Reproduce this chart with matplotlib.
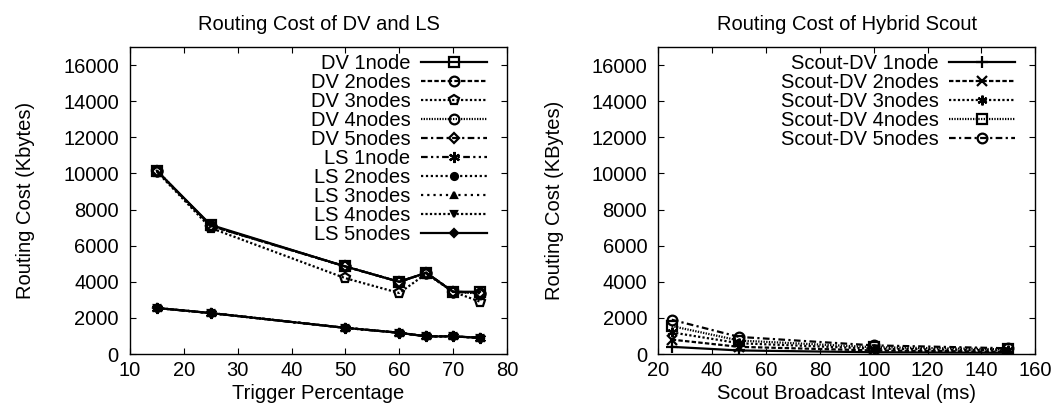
import matplotlib.pyplot as plt
import numpy as np

plt.rcParams['font.family'] = ['Liberation Sans', 'DejaVu Sans']

# left panel data
trigger_pct = [15, 25, 50, 60, 65, 70, 75]
dv_labels = ['DV 1node', 'DV 2nodes', 'DV 3nodes', 'DV 4nodes', 'DV 5nodes']
dv_1 = [10150, 7150, 4850, 4000, 4500, 3450, 3450]
dv_2 = [10150, 7100, 4850, 4000, 4500, 3450, 3400]
dv_3 = [10100, 6980, 4200, 3380, 4450, 3450, 2900]
dv_4 = [10150, 7100, 4850, 4000, 4500, 3450, 3350]
dv_5 = [10150, 7100, 4850, 4000, 4500, 3450, 3400]
ls_labels = ['LS 1node', 'LS 2nodes', 'LS 3nodes', 'LS 4nodes', 'LS 5nodes']
ls_1 = [2550, 2270, 1450, 1180, 980, 980, 900]
ls_2 = [2550, 2270, 1450, 1180, 980, 980, 900]
ls_3 = [2550, 2270, 1450, 1180, 980, 980, 900]
ls_4 = [2550, 2270, 1450, 1180, 980, 980, 900]
ls_5 = [2550, 2270, 1450, 1180, 980, 980, 900]

# right panel data
interval_ms = [25, 50, 100, 150]
scout_labels = ['Scout-DV 1node', 'Scout-DV 2nodes', 'Scout-DV 3nodes',
                'Scout-DV 4nodes', 'Scout-DV 5nodes']
scout_1 = [400, 200, 100, 70]
scout_2 = [800, 400, 200, 130]
scout_3 = [1200, 600, 300, 200]
scout_4 = [1550, 750, 380, 260]
scout_5 = [1900, 950, 480, 320]

styles_dv = [
    dict(ls='-', marker='s', mfc='none'),
    dict(ls=(0, (2, 1)), marker='o', mfc='none'),
    dict(ls=(0, (1, 1)), marker='p', mfc='none'),
    dict(ls=(0, (0.6, 0.6)), marker='o', mfc='none'),
    dict(ls=(0, (3, 1.5, 1, 1.5)), marker='D', mfc='none', ms=5),
]
styles_ls = [
    dict(ls=(0, (3, 1.5, 1, 1.5, 1, 1.5)), marker=(6, 2, 0), ms=8),
    dict(ls=(0, (1, 1.2)), marker='o', ms=5),
    dict(ls=(0, (1, 1.8)), marker='^', ms=5),
    dict(ls=(0, (1, 1)), marker='v', ms=5),
    dict(ls='-', marker='D', ms=4),
]
styles_scout = [
    dict(ls='-', marker='+', ms=8),
    dict(ls=(0, (2, 1)), marker='x'),
    dict(ls=(0, (1, 1)), marker=(6, 2, 0)),
    dict(ls=(0, (0.6, 0.6)), marker='s', mfc='none'),
    dict(ls=(0, (3, 1.5, 1, 1.5)), marker='o', mfc='none'),
]

FS = 14.5

fig = plt.figure(figsize=(10.6, 4.2), dpi=100)
ax1 = fig.add_axes([0.1226, 0.157, 0.3557, 0.731])
ax2 = fig.add_axes([0.621, 0.157, 0.3557, 0.731])

dv_series = [dv_1, dv_2, dv_3, dv_4, dv_5]
ls_series = [ls_1, ls_2, ls_3, ls_4, ls_5]
for lab, ys, st in zip(dv_labels, dv_series, styles_dv):
    kw = dict(color='black', lw=1.6, ms=7, mew=1.6)
    kw.update(st)
    ax1.plot(trigger_pct, ys, label=lab, **kw)
for lab, ys, st in zip(ls_labels, ls_series, styles_ls):
    kw = dict(color='black', lw=1.6, ms=7, mew=1.6)
    kw.update(st)
    ax1.plot(trigger_pct, ys, label=lab, **kw)

scout_series = [scout_1, scout_2, scout_3, scout_4, scout_5]
for lab, ys, st in zip(scout_labels, scout_series, styles_scout):
    kw = dict(color='black', lw=1.6, ms=7, mew=1.6)
    kw.update(st)
    ax2.plot(interval_ms, ys, label=lab, **kw)

ax1.set_xlim(10, 80)
ax1.set_xticks(np.arange(10, 81, 10))
ax2.set_xlim(20, 160)
ax2.set_xticks(np.arange(20, 161, 20))
for ax in (ax1, ax2):
    ax.set_ylim(0, 17000)
    ax.set_yticks(np.arange(0, 16001, 2000))
    ax.tick_params(direction='in', length=4, labelsize=FS, top=True, right=True)
    ax.tick_params(axis='y', pad=8)
    ax.tick_params(axis='x', pad=5)
    for sp in ax.spines.values():
        sp.set_linewidth(1.0)
    ax.legend(loc='upper right', bbox_to_anchor=(0.947, 0.978), frameon=False,
              markerfirst=False, fontsize=FS, labelspacing=0.0,
              handlelength=3.3, handletextpad=0.5, borderaxespad=0.0,
              borderpad=0.0)

ax1.set_title('Routing Cost of DV and LS', fontsize=FS, pad=12)
ax1.set_xlabel('Trigger Percentage', fontsize=FS, labelpad=3)
ax1.set_ylabel('Routing Cost (Kbytes)', fontsize=FS, labelpad=20)
ax2.set_title('Routing Cost of Hybrid Scout', fontsize=FS, pad=12)
ax2.set_xlabel('Scout Broadcast Inteval (ms)', fontsize=FS, labelpad=3)
ax2.set_ylabel('Routing Cost (KBytes)', fontsize=FS, labelpad=20)

plt.savefig('out.png', dpi=100)
